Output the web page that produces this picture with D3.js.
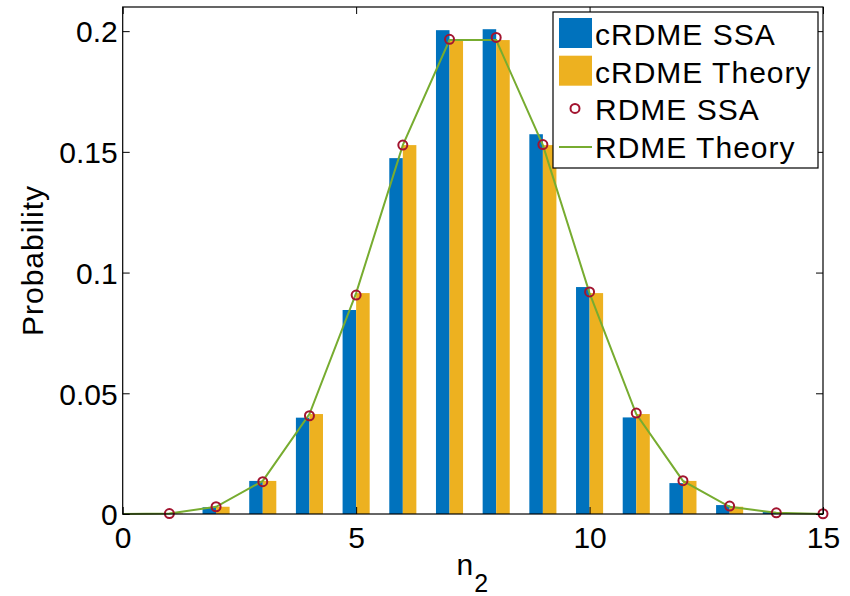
<!DOCTYPE html>
<html>
  <head>
    <meta charset="utf-8">
    <title></title>
    <style>
      body, html{
        margin: 0;
        background: #fff;
      }
      text{
        font-family: "Liberation Sans", Arial, Helvetica, sans-serif;
        fill: #000;
      }
    </style>
  </head>
  <body>
    <div id="chart"></div>
    <script src="https://cdn.jsdelivr.net/npm/d3@7/dist/d3.min.js"></script>
    <script>

// values
var nValues = [1, 2, 3, 4, 5, 6, 7, 8, 9, 10, 11, 12, 13, 14, 15]
var crdmeSSA = [0.0003, 0.0028, 0.0137, 0.0399, 0.0845, 0.1474, 0.2004, 0.2008, 0.1573, 0.0940, 0.0400, 0.0128, 0.0037, 0.0008, 0]
var crdmeTheory = [0.0002, 0.0030, 0.0137, 0.0414, 0.0915, 0.1528, 0.1963, 0.1963, 0.1528, 0.0915, 0.0414, 0.0137, 0.0030, 0.0005, 0]
var rdmeSSA = [0.0002, 0.0030, 0.0134, 0.0407, 0.0907, 0.1528, 0.1966, 0.1974, 0.1530, 0.0920, 0.0418, 0.0138, 0.0033, 0.0005, 0.0001]
var theoryN = [0, 1, 2, 3, 4, 5, 6, 7, 8, 9, 10, 11, 12, 13, 14, 15]
var rdmeTheory = [0, 0.0002, 0.0030, 0.0137, 0.0414, 0.0915, 0.1528, 0.1963, 0.1963, 0.1528, 0.0915, 0.0414, 0.0137, 0.0030, 0.0005, 0]
var xTicks = [0, 5, 10, 15]
var yTicks = [0, 0.05, 0.1, 0.15, 0.2]
var yTickLabels = ['0', '0.05', '0.1', '0.15', '0.2']
var legendLabels = ['cRDME SSA', 'cRDME Theory', 'RDME SSA', 'RDME Theory']

var blue = '#0072bd', yellow = '#edb120', red = '#a2142f', green = '#77ac30'

var width = 850, height = 596
var margin = {top: 7, right: 27, bottom: 82, left: 122.7}
var w = width - margin.left - margin.right, h = height - margin.top - margin.bottom

var x = d3.scaleLinear().domain([0, 15]).range([0, w])
var y = d3.scaleLinear().domain([0, 0.21]).range([h, 0])
var barW = 0.29

var svg = d3.select('#chart').append('svg').attr('width', width).attr('height', height)
var g = svg.append('g').attr('transform', 'translate(' + margin.left + ',' + margin.top + ')')

// bars
g.selectAll('rect.ssa').data(nValues).enter().append('rect')
  .attr('class', 'ssa')
  .attr('x', function(d){ return x(d - barW) })
  .attr('width', x(barW) - x(0))
  .attr('y', function(d, i){ return y(crdmeSSA[i]) })
  .attr('height', function(d, i){ return y(0) - y(crdmeSSA[i]) })
  .attr('fill', blue)

g.selectAll('rect.theory').data(nValues).enter().append('rect')
  .attr('class', 'theory')
  .attr('x', function(d){ return x(d) })
  .attr('width', x(barW) - x(0))
  .attr('y', function(d, i){ return y(crdmeTheory[i]) })
  .attr('height', function(d, i){ return y(0) - y(crdmeTheory[i]) })
  .attr('fill', yellow)

// theory line
var line = d3.line()
  .x(function(d){ return x(d) })
  .y(function(d, i){ return y(rdmeTheory[i]) })
g.append('path').datum(theoryN)
  .attr('d', line)
  .attr('fill', 'none')
  .attr('stroke', green)
  .attr('stroke-width', 2)

// RDME SSA markers
g.selectAll('circle.rdme').data(nValues).enter().append('circle')
  .attr('class', 'rdme')
  .attr('cx', function(d){ return x(d) })
  .attr('cy', function(d, i){ return y(rdmeSSA[i]) })
  .attr('r', 4.5)
  .attr('fill', 'none')
  .attr('stroke', red)
  .attr('stroke-width', 2)

// axes box with inward ticks
var tickLen = 7
var xAxis = d3.axisBottom(x).tickValues(xTicks).tickSizeInner(-tickLen).tickSizeOuter(0).tickPadding(13)
var yAxis = d3.axisLeft(y).tickValues(yTicks).tickSizeInner(-tickLen).tickSizeOuter(0).tickPadding(5)
  .tickFormat(function(d, i){ return yTickLabels[i] })

var gx = g.append('g').attr('transform', 'translate(0,' + h + ')').call(xAxis)
var gy = g.append('g').call(yAxis)
g.append('g').call(d3.axisTop(x).tickValues(xTicks).tickSizeInner(-tickLen).tickSizeOuter(0).tickFormat(''))
g.append('g').attr('transform', 'translate(' + w + ',0)')
  .call(d3.axisRight(y).tickValues(yTicks).tickSizeInner(-tickLen).tickSizeOuter(0).tickFormat(''))
g.selectAll('.domain').remove()
g.selectAll('.tick line').attr('stroke', '#000')
g.append('rect').attr('width', w).attr('height', h)
  .attr('fill', 'none').attr('stroke', '#000').attr('stroke-width', 1.2)

gx.selectAll('text').style('font-size', '30px').attr('fill', '#000').attr('font-family', null)
gy.selectAll('text').style('font-size', '30px').attr('fill', '#000').attr('font-family', null).attr('dy', '0.36em')

// axis labels
var xl = svg.append('text')
  .attr('x', margin.left + w / 2)
  .attr('y', 575)
  .attr('text-anchor', 'middle')
  .style('font-size', '30px')
  .style('letter-spacing', '1px')
xl.append('tspan').text('n')
xl.append('tspan').attr('dy', 17).style('font-size', '25px').text('2')

svg.append('text')
  .attr('transform', 'translate(43,' + (margin.top + h / 2) + ') rotate(-90)')
  .attr('text-anchor', 'middle')
  .style('font-size', '30px')
  .style('letter-spacing', '1px')
  .text('Probability')

// legend
var lg = svg.append('g').attr('transform', 'translate(553,12)')
lg.append('rect').attr('width', 265).attr('height', 156)
  .attr('fill', '#fff').attr('stroke', '#000').attr('stroke-width', 1.2)
var rowH = 37.7
var rows = lg.selectAll('g.row').data(legendLabels).enter().append('g')
  .attr('class', 'row')
  .attr('transform', function(d, i){ return 'translate(0,' + (6 + i * rowH) + ')' })
rows.append('text').attr('x', 42).attr('y', 27)
  .style('font-size', '30px').style('letter-spacing', '1px')
  .text(function(d){ return d })
rows.filter(function(d, i){ return i < 2 }).append('rect')
  .attr('x', 6).attr('y', 0).attr('width', 33).attr('height', 30)
  .attr('fill', function(d, i){ return i === 0 ? blue : yellow })
rows.filter(function(d, i){ return i === 2 }).append('circle')
  .attr('cx', 22).attr('cy', 15).attr('r', 4.5)
  .attr('fill', 'none').attr('stroke', red).attr('stroke-width', 2)
rows.filter(function(d, i){ return i === 3 }).append('line')
  .attr('x1', 6).attr('x2', 39).attr('y1', 16).attr('y2', 16)
  .attr('stroke', green).attr('stroke-width', 2)
    </script>
  </body>
</html>
